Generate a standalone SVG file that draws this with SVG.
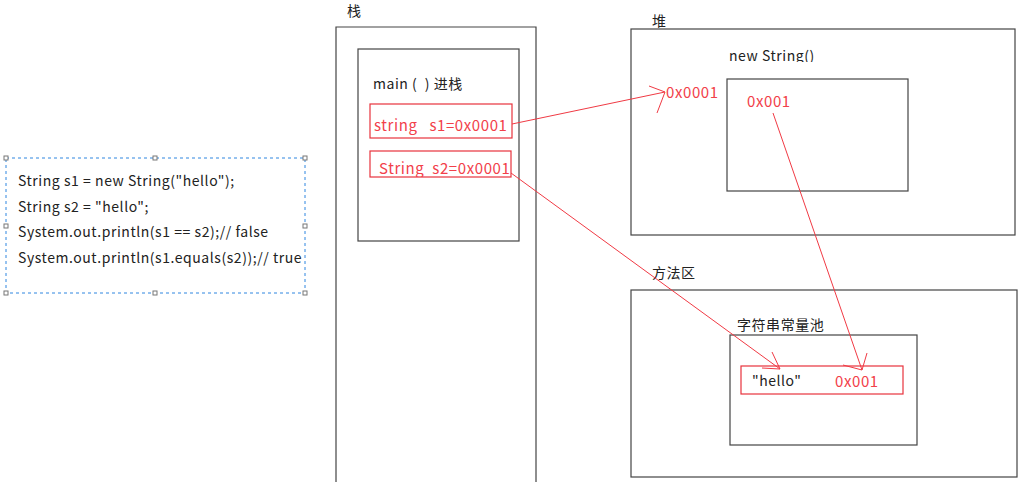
<svg xmlns="http://www.w3.org/2000/svg" width="1023" height="482" viewBox="0 0 1023 482">
<style>
text{font-family:"Noto Sans CJK SC","Noto Sans",sans-serif;font-size:14px;letter-spacing:0.55px;fill:#222}
.red{fill:#f2404a;font-size:15px;letter-spacing:0.6px}
.box{fill:none;stroke:#444;stroke-width:1.2}
.rbox{fill:none;stroke:#e8323c;stroke-width:1.2}
.ln{fill:none;stroke:#f03a44;stroke-width:1}
.h{fill:#fff;stroke:#777;stroke-width:1}
</style>
<defs>
<clipPath id="c1"><rect x="370" y="150" width="142" height="27"/></clipPath>
<clipPath id="c2"><rect x="720" y="30" width="120" height="32"/></clipPath>
</defs>
<rect width="1023" height="482" fill="#fff"/>
<g id="code">
<rect x="6" y="158" width="299" height="135" fill="none" stroke="#2f86e0" stroke-dasharray="3,3"/>
<rect class="h" x="4" y="156" width="4" height="4"/><rect class="h" x="153" y="156" width="4" height="4"/><rect class="h" x="303" y="156" width="4" height="4"/>
<rect class="h" x="4" y="224" width="4" height="4"/><rect class="h" x="303" y="224" width="4" height="4"/>
<rect class="h" x="4" y="291" width="4" height="4"/><rect class="h" x="153" y="291" width="4" height="4"/><rect class="h" x="303" y="291" width="4" height="4"/>
<text x="18" y="186">String s1 = new String("hello");</text>
<text x="18" y="212">String s2 = "hello";</text>
<text x="18" y="237">System.out.println(s1 == s2);// false</text>
<text x="18" y="263">System.out.println(s1.equals(s2));// true</text>
</g>
<g id="stack">
<text x="347" y="16">栈</text>
<polyline class="box" points="336,482 336,27 536,27 536,482"/>
<rect class="box" x="358" y="49" width="161" height="192"/>
<text x="373" y="89" xml:space="preserve">main (  ) 进栈</text>
</g>
<g id="s1">
<rect class="rbox" x="370" y="104" width="142" height="34"/>
<text class="red" x="374" y="131" xml:space="preserve">string   s1=0x0001</text>
</g>
<g id="s2">
<rect class="rbox" x="370" y="151" width="141" height="26"/>
<text class="red" x="379" y="174" clip-path="url(#c1)" xml:space="preserve">String  s2=0x0001</text>
</g>
<g id="heap">
<text x="652" y="26">堆</text>
<rect class="box" x="631" y="29" width="384" height="206"/>
<text x="729" y="61" clip-path="url(#c2)">new String()</text>
<text class="red" x="666" y="98">0x0001</text>
<rect class="box" x="727" y="79" width="181" height="112"/>
<text class="red" x="747" y="107">0x001</text>
</g>
<g id="method">
<text x="652" y="278">方法区</text>
<rect class="box" x="631" y="290" width="386" height="187"/>
<text x="737" y="330">字符串常量池</text>
<rect class="box" x="730" y="335" width="187" height="110"/>
<rect class="rbox" x="741" y="366" width="162" height="28"/>
<text x="752" y="386">"hello"</text>
<text class="red" x="835" y="387">0x001</text>
</g>
<g id="connectors">
<path class="ln" d="M512,124 L665,92 M649,86 L665,92 L657,113"/>
<path class="ln" d="M511,173 L780,369 M772,352 L780,369 L762,368"/>
<path class="ln" d="M773,113 L862,370 M867,353 L862,370 L843,365"/>
</g>
</svg>
